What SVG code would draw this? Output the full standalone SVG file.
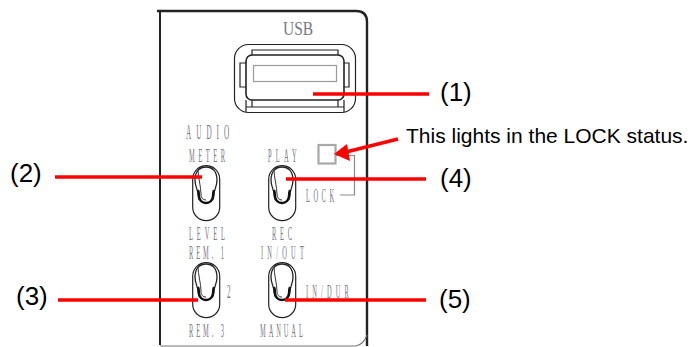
<svg xmlns="http://www.w3.org/2000/svg" width="692" height="347" viewBox="0 0 692 347">
<style>
.l{font-family:"Liberation Sans",Arial,sans-serif;fill:#000}
.big{font-size:26px}
.p{font-family:"Liberation Serif","Times New Roman",serif;fill:#77777f;font-size:18px}
.k{fill:none;stroke:#222;stroke-width:1.2}
.g{fill:none;stroke:#8a8a8a;stroke-width:1.2}
.r{fill:none;stroke:#f00;stroke-width:3.6}
</style>
<defs>
<g id="sw">
<rect x="0.7" y="0.7" width="27" height="55" rx="13.5" class="k"/>
<path d="M3 15C3 6 8 2 14 2C20 2 25 6 25 15C25 22 22 24 22 30C22 35 18 38 14 38C10 38 6 35 6 30C6 24 3 22 3 15Z" fill="none" stroke="#222" stroke-width="1.3"/>
<path d="M6 25C7 27 7 29 7 31C7 35 10 38 14 38C18 38 21 35 21 31C21 29 21 27 22 25" fill="none" stroke="#111" stroke-width="2.4"/>
<path d="M6 5C6 12 9 22 9 29C9 33 11 35 14 35" fill="none" stroke="#333" stroke-width="1"/>
</g>
</defs>
<g id="panel">
<path d="M157 11H356Q367 11 367 22V346" fill="none" stroke="#222" stroke-width="2.4"/>
<path d="M160 11V345" fill="none" stroke="#222" stroke-width="2"/>
<path d="M160 346H356Q364 344 367 335" fill="none" stroke="#777" stroke-width="1.2"/>
</g>
<g id="usb">
<text class="p" transform="translate(283 35) scale(.86 1)">USB</text>
<rect x="234.500" y="44.500" width="121" height="68" rx="14" class="k" stroke-width="1.4"/>
<rect x="246" y="55" width="98" height="45" rx="6" fill="none" stroke="#222" stroke-width="1.6"/>
<path d="M252 55V50H338V55M246 100V112M344 100V112M252 100V107H338V100M246 107H344" class="k"/>
<path d="M246 63H240V87H246M344 63H349V87H344" class="k"/>
<rect x="253.500" y="65.500" width="83" height="16" fill="none" stroke="#999" stroke-width="1.2"/>
</g>
<g id="switch-audio">
<use href="#sw" x="192" y="165"/>
<text class="p" style="font-size:20px" transform="translate(186 139) scale(.36 1)" textLength="120" lengthAdjust="spacing">AUDIO</text>
<text class="p" transform="translate(189 162) scale(.36 1)" textLength="100" lengthAdjust="spacing">METER</text>
<text class="p" transform="translate(189 240) scale(.36 1)" textLength="100" lengthAdjust="spacing">LEVEL</text>
</g>
<g id="switch-play">
<use href="#sw" x="268" y="165"/>
<text class="p" transform="translate(268 162) scale(.36 1)" textLength="80" lengthAdjust="spacing">PLAY</text>
<text class="p" transform="translate(272 240) scale(.36 1)" textLength="56" lengthAdjust="spacing">REC</text>
</g>
<g id="lock">
<rect x="318.500" y="145" width="17" height="18.500" fill="none" stroke="#a8a8a8" stroke-width="2.200"/>
<path d="M336 155.500H354.500V195H340" class="g"/>
<text class="p" transform="translate(306 202) scale(.36 1)" textLength="78" lengthAdjust="spacing">LOCK</text>
</g>
<g id="switch-rem">
<use href="#sw" x="192" y="262"/>
<text class="p" transform="translate(189 259) scale(.36 1)" textLength="97" lengthAdjust="spacing">REM. 1</text>
<text class="p" transform="translate(227 298) scale(.4 1)">2</text>
<text class="p" transform="translate(189 337) scale(.36 1)" textLength="97" lengthAdjust="spacing">REM. 3</text>
</g>
<g id="switch-inout">
<use href="#sw" x="268" y="262"/>
<text class="p" transform="translate(261 259) scale(.36 1)" textLength="119" lengthAdjust="spacing">IN/OUT</text>
<text class="p" transform="translate(306 298) scale(.36 1)" textLength="119" lengthAdjust="spacing">IN/DUR</text>
<text class="p" transform="translate(260 337) scale(.36 1)" textLength="119" lengthAdjust="spacing">MANUAL</text>
</g>
<g id="connectors">
<path class="r" d="M313 94H429"/>
<path class="r" d="M55 177H202"/>
<path class="r" d="M286 179H426"/>
<path class="r" d="M58 300H198"/>
<path class="r" d="M285 300H426"/>
<path class="r" d="M398 139L346 152"/>
<path d="M334 154L347 144L350 161Z" fill="#f00"/>
</g>
<g id="labels">
<text class="l big" x="440" y="101">(1)</text>
<text class="l big" x="10" y="182">(2)</text>
<text class="l big" x="16" y="305">(3)</text>
<text class="l big" x="440" y="187">(4)</text>
<text class="l big" x="439" y="308">(5)</text>
<text class="l" x="406" y="143" style="font-size:21px">This lights in the LOCK status.</text>
</g>
</svg>
